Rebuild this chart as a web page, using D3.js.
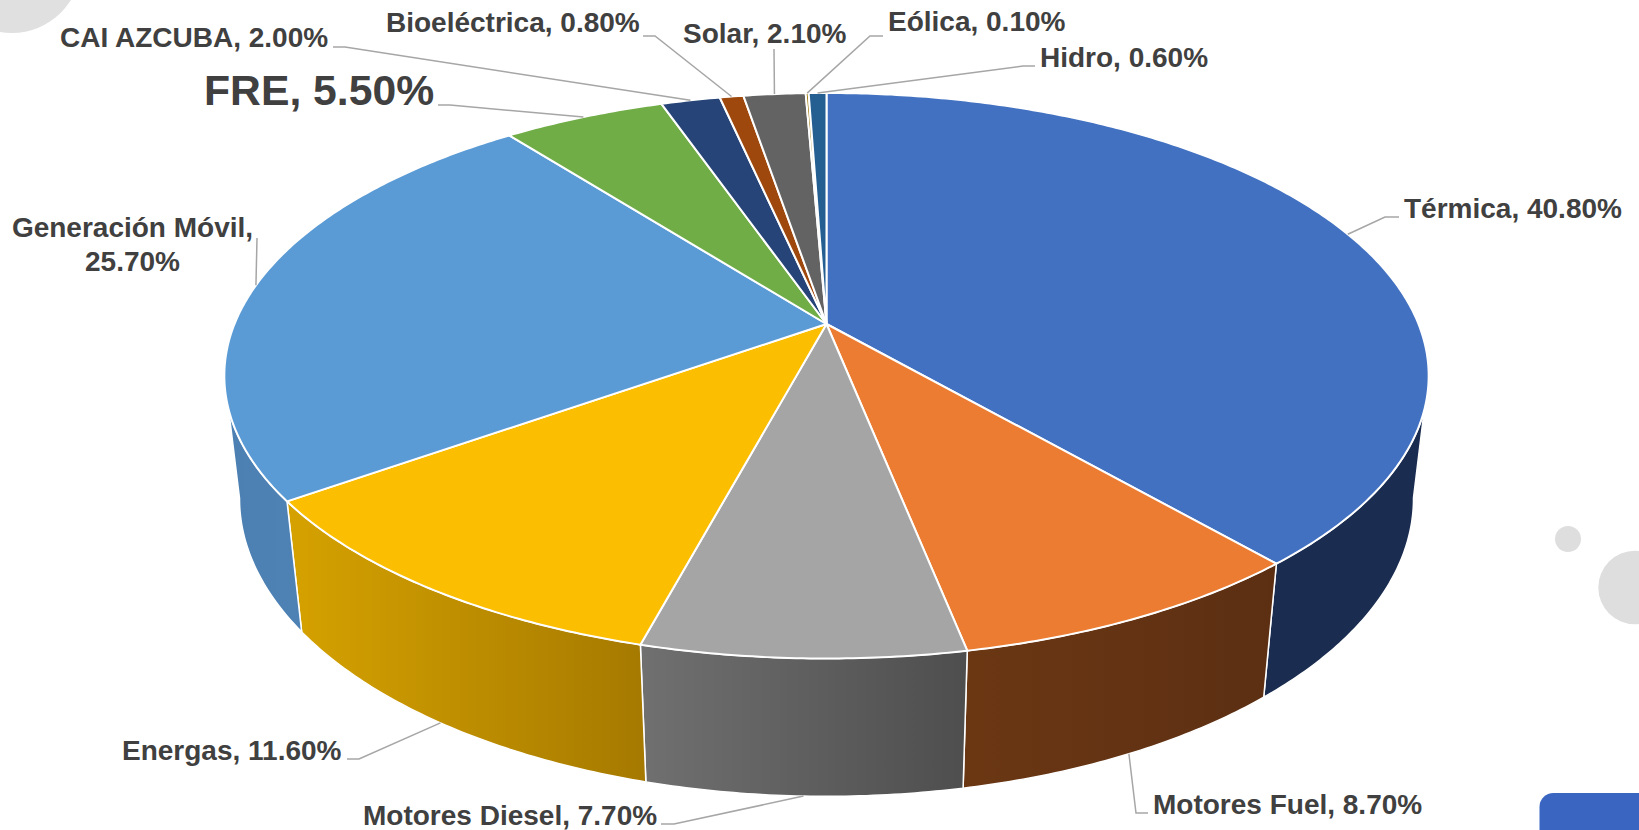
<!DOCTYPE html>
<html lang="es">
<head>
<meta charset="utf-8">
<title>Generación por tecnología</title>
<script src="https://cdn.jsdelivr.net/npm/d3@7"></script>
<style>
  body { margin: 0; background: #fff; overflow: hidden; }
  svg { display: block; }
  .label { font-family: "Liberation Sans", Arial, sans-serif; font-weight: bold; fill: #404040; }
</style>
</head>
<body>
<svg></svg>
<script>
// chart data (they add up to 105.6, not 100)
const categories = ["Térmica", "Motores Fuel", "Motores Diesel", "Energas", "Generación Móvil", "FRE",
  "CAI AZCUBA", "Bioeléctrica", "Solar", "Eólica", "Hidro"];
const shares = [40.8, 8.7, 7.7, 11.6, 25.7, 5.5, 2.0, 0.8, 2.1, 0.1, 0.6];

// colours
const topColors = ["#4271c1", "#eb7c31", "#a5a5a5", "#fbbe00", "#5b9bd5", "#70ad47",
  "#264478", "#9e480e", "#636363", "#997300", "#255e91"];
const wallLeft = ["#1a2c50", "#6b3713", "#707070", "#d6a200", "#4d80b2", "#70ad47",
  "#264478", "#9e480e", "#636363", "#997300", "#255e91"];
const wallRight = ["#1a2c50", "#5c2f13", "#4e4e4e", "#a67a00", "#5086ba", "#70ad47",
  "#264478", "#9e480e", "#636363", "#997300", "#255e91"];

// label layout: text start + baseline, then the elbow of each leader
const labelAt = [[1404, 218], [1153, 813.5], [363, 825], [122, 759.5], [132.5, 237], [204, 105],
  [60, 47], [386, 32], [683, 43], [888, 31], [1040, 67]];
const leaderEnds = [
  [[1399, 217], [1385, 217]], [[1148, 813], [1136, 813]], [[661, 824], [674, 824]], [[347, 759], [359, 759]],
  [[257, 238]], [[438, 105], [450, 105]], [[333, 47], [345, 47]], [[643, 36], [655, 36]],
  [[774, 49]], [[883, 36], [870, 36]], [[1035, 66], [1023, 66]]
];

const width = 1639;
const height = 830;

// perspective of the tilted disc, fitted to the picture
const cx = 826.5;
const cy = 324;
const radiusX = 592;
const radiusY = 273.3;
const tilt = 0.183;
const depth = 124.4;
const depthTilt = 0.025;

// angle is clockwise from 12 o'clock, h = 0 on the top face and 1 on the bottom one
const project = (angle, h = 0) => {
  const u = Math.sin(angle);
  const v = Math.cos(angle);
  const w = 1 + tilt * v + depthTilt * h;
  return [cx + (radiusX * u) / w, cy + (-radiusY * v + depth * h) / w];
};

const svg = d3.select("svg").attr("width", width).attr("height", height);

// grey dots and the blue tab behind the chart
const deco = svg.append("g");
deco.append("circle").attr("cx", 12).attr("cy", -36).attr("r", 69).attr("fill", "#e0e0e0");
deco.append("circle").attr("cx", 1568).attr("cy", 539).attr("r", 13).attr("fill", "#dedede");
deco.append("circle").attr("cx", 1635).attr("cy", 587.5).attr("r", 36.7).attr("fill", "#dedede");
deco.append("rect").attr("x", 1539.5).attr("y", 793).attr("width", 130).attr("height", 70)
  .attr("rx", 14).attr("fill", "#3a66c2");

const color = d3.scaleOrdinal().domain(categories).range(topColors);

const pie = d3.pie().sort(null).value((d, i) => shares[i]).startAngle(0).endAngle(2 * Math.PI);
const slices = pie(categories);

const arcAngles = (d) => {
  const steps = Math.max(2, Math.ceil((d.endAngle - d.startAngle) / 0.01));
  return d3.range(steps + 1).map((i) => d.startAngle + ((d.endAngle - d.startAngle) * i) / steps);
};

const closedLine = d3.line().curve(d3.curveLinearClosed);

const defs = svg.append("defs");
slices.forEach((d, i) => {
  const xs = arcAngles(d).map((a) => project(a)[0]);
  const grad = defs.append("linearGradient")
    .attr("id", `wall-${i}`)
    .attr("gradientUnits", "userSpaceOnUse")
    .attr("x1", d3.min(xs)).attr("x2", d3.max(xs))
    .attr("y1", 0).attr("y2", 0);
  grad.append("stop").attr("offset", 0).attr("stop-color", wallLeft[i]);
  grad.append("stop").attr("offset", 1).attr("stop-color", wallRight[i]);
});

// outer walls first, from the tangent lines of the silhouette round the front
const facing = (a) => Math.cos(a) < -tilt / (1 + depthTilt) + 0.01;
svg.append("g").selectAll("path")
  .data(slices)
  .enter()
  .append("path")
  .attr("d", (d) => {
    const angles = arcAngles(d).filter(facing);
    if (angles.length < 2) return null;
    const upper = angles.map((a) => project(a, 0));
    const lower = angles.map((a) => project(a, 1)).reverse();
    return closedLine(upper.concat(lower));
  })
  .attr("fill", (d, i) => `url(#wall-${i})`)
  .attr("stroke", "#fff")
  .attr("stroke-width", 1.5);

// top face
svg.append("g").selectAll("path")
  .data(slices)
  .enter()
  .append("path")
  .attr("d", (d) => closedLine([[cx, cy]].concat(arcAngles(d).map((a) => project(a)))))
  .attr("fill", (d) => color(d.data))
  .attr("stroke", "#fff")
  .attr("stroke-width", 2)
  .attr("stroke-linejoin", "round");

// leaders run to the rim at the middle of the slice, to the lower rim for front slices
const leaderTip = (d) => {
  const mid = (d.startAngle + d.endAngle) / 2;
  return project(mid, Math.cos(mid) < 0 ? 1 : 0);
};
svg.append("g").selectAll("path")
  .data(slices)
  .enter()
  .append("path")
  .attr("d", (d, i) => d3.line()(leaderEnds[i].concat([leaderTip(d)])))
  .attr("fill", "none")
  .attr("stroke", "#a6a6a6")
  .attr("stroke-width", 1.5);

const labels = svg.append("g").selectAll("text")
  .data(slices)
  .enter()
  .append("text")
  .attr("class", "label")
  .attr("x", (d, i) => labelAt[i][0])
  .attr("y", (d, i) => labelAt[i][1])
  .attr("font-size", (d) => (d.data === "FRE" ? 42.7 : 28));

labels.each(function (d, i) {
  const text = `${d.data}, ${shares[i].toFixed(2)}%`;
  if (d.data === "Generación Móvil") {
    // this one wraps onto two centred lines
    const el = d3.select(this).attr("text-anchor", "middle");
    el.append("tspan").attr("x", labelAt[i][0]).text(`${d.data},`);
    el.append("tspan").attr("x", labelAt[i][0]).attr("dy", 33.5).text(`${shares[i].toFixed(2)}%`);
  } else {
    d3.select(this).text(text);
  }
});
</script>
</body>
</html>
